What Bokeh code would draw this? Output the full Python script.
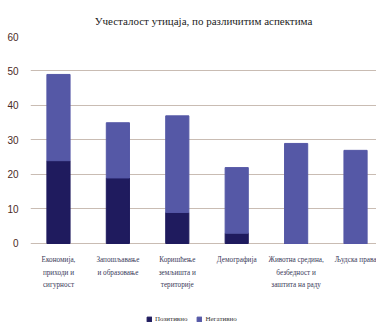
from bokeh.plotting import figure
from bokeh.models import Range1d, FixedTicker, Legend, LegendItem, ColumnDataSource
from bokeh.core.properties import value
from bokeh.embed import file_html
from bokeh.resources import INLINE

title = "Учесталост утицаја, по различитим аспектима"
categories = [
    "Економија,\nприходи и\nсигурност",
    "Запошљавање\nи образовање",
    "Коришћење\nземљишта и\nтериторије",
    "Демографија",
    "Животна средина,\nбезбедност и\nзаштита на раду",
    "Људска права",
]
positive = [24, 19, 9, 3, 0, 0]
negative = [25, 16, 28, 19, 29, 27]
series_names = ["Позитивно", "Негативно"]
colors = ["#1f1b5e", "#5558a6"]
y_ticks = [0, 10, 20, 30, 40, 50, 60]

x = list(range(len(categories)))
src = ColumnDataSource(dict(x=x, pos=positive, neg=negative, label=categories,
                            base=[0] * len(x),
                            top2=[a + b for a, b in zip(positive, negative)]))

p = figure(width=376, height=323, output_backend="svg", toolbar_location=None,
           x_range=Range1d(-0.471, 5.353), y_range=Range1d(-23.19, 60),
           min_border_left=30, min_border_right=0, min_border_top=36, min_border_bottom=0)

r1 = p.vbar(x="x", bottom=0, top="pos", width=0.39, color=colors[0], source=src)
r2 = p.vbar(x="x", bottom="pos", top="top2", width=0.39, color=colors[1], source=src)

p.text(x="x", y="base", text="label", source=src, text_align="center",
       text_baseline="top", y_offset=13, text_font=value("Liberation Serif"),
       text_font_size="7.2px", text_line_height=1.55, text_color="#3a3a5a")

p.title.text = title
p.title.align = "center"
p.title.text_font = "Liberation Serif"
p.title.text_font_size = "11px"
p.title.text_font_style = "normal"
p.title.text_color = "#222222"
p.title.offset = 0
p.title.standoff = 20

p.outline_line_color = None
p.xgrid.grid_line_color = None
p.xaxis.visible = False
p.ygrid.grid_line_color = "#c9bcb3"
p.ygrid.grid_line_width = 1
p.yaxis.ticker = FixedTicker(ticks=y_ticks)
p.yaxis.axis_line_color = None
p.yaxis.major_tick_line_color = None
p.yaxis.minor_tick_line_color = None
p.yaxis.major_label_text_font = "Liberation Sans"
p.yaxis.major_label_text_font_size = "10px"
p.yaxis.major_label_text_color = "#4a2a1e"
p.yaxis.major_label_standoff = 6

legend = Legend(items=[LegendItem(label=series_names[0], renderers=[r1]),
                       LegendItem(label=series_names[1], renderers=[r2])],
                orientation="horizontal", location=(116, 0),
                label_text_font="Liberation Serif", label_text_font_size="7px",
                label_text_color="#333333", glyph_width=6, glyph_height=6,
                label_standoff=3, spacing=9, border_line_color=None,
                background_fill_alpha=0, padding=2, margin=0,
                label_height=8)
p.add_layout(legend, "center")

open("out.html", "w").write(file_html(p, INLINE))
